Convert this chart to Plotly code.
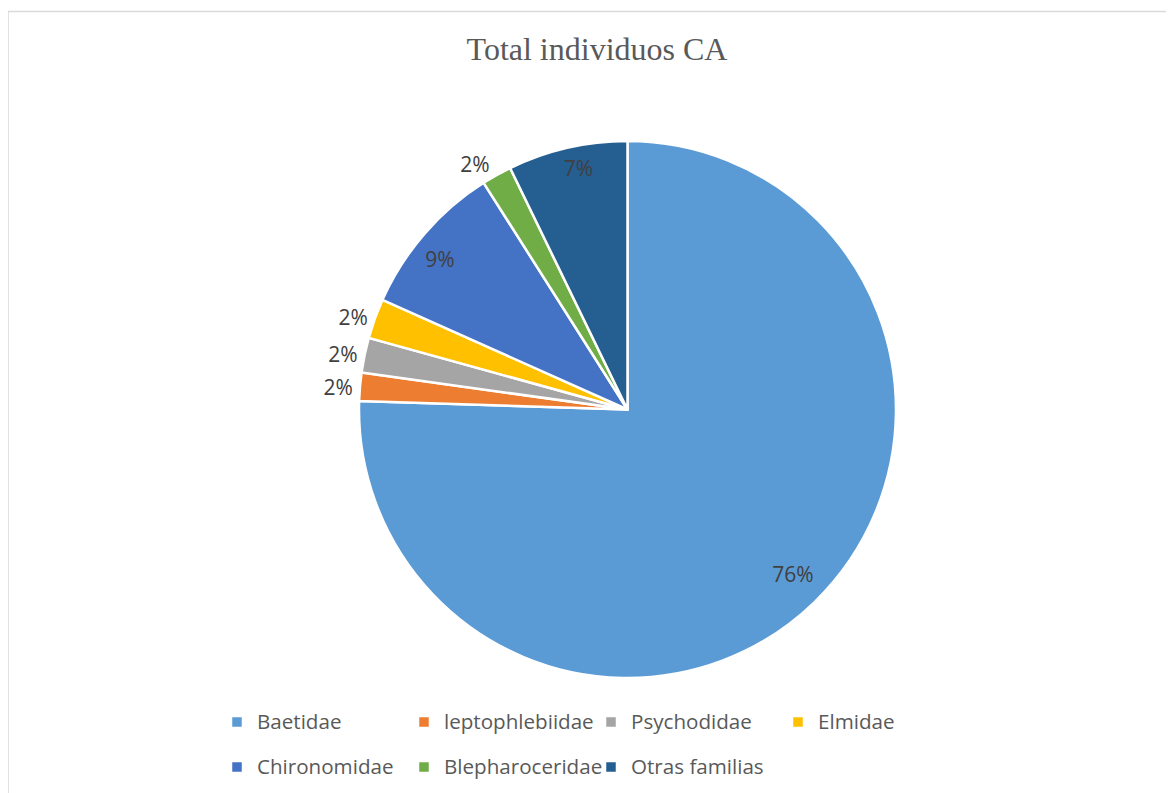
import plotly.graph_objects as go

categories = ["Baetidae", "leptophlebiidae", "Psychodidae", "Elmidae",
              "Chironomidae", "Blepharoceridae", "Otras familias"]
values = [75.5, 1.7, 2.1, 2.4, 9.3, 1.8, 7.2]
colors = ["#5B9BD5", "#ED7D31", "#A5A5A5", "#FFC000", "#4472C4", "#70AD47", "#255E91"]
text_positions = ["inside", "outside", "outside", "outside", "inside", "outside", "inside"]
title_text = "Total individuos CA"

W, H = 1174, 793
OFF = 8  # page body margin
ML, MR, MT, MB = 187, 187, 0, 0
PW, PH = W - ML - MR, H - MT - MB


def px_x(p):  # screen pixel -> paper x
    return (p - OFF - ML) / PW


def px_y(p):  # screen pixel -> paper y
    return 1 - (p - OFF - MT) / PH


# label placement padding (invisible glyphs) to push inside labels toward the rim, as in the original
INV = "<span style='color:rgba(0,0,0,0)'>{}</span>"
PCT = "%{percent:.0%}"
templates = [
    "<br>".join([INV.format("0")] * 5) + "<br>" + INV.format("0" * 12) + PCT,
    PCT, PCT, PCT,
    PCT + INV.format("0" * 5) + "<br>" + INV.format("0"),
    PCT,
    PCT + "<br>" + INV.format("0") + "<br>" + INV.format("0"),
]

legend_labels = [f"<span style='font-size:20.6px;baseline-shift:6px'>{c}</span>" for c in categories]

fig = go.Figure(go.Pie(
    labels=legend_labels,
    values=values,
    sort=False,
    direction="clockwise",
    rotation=0,
    marker=dict(colors=colors, line=dict(color="white", width=2.5)),
    texttemplate=templates,
    textposition=text_positions,
    insidetextorientation="horizontal",
    textfont=dict(family="Open Sans", size=21, color="#404040"),
    domain=dict(x=[px_x(359), px_x(896)], y=[px_y(678), px_y(141)]),
    hoverinfo="label+percent",
))

fig.update_layout(
    width=W, height=H,
    margin=dict(l=ML, r=MR, t=MT, b=MB),
    paper_bgcolor="white",
    plot_bgcolor="white",
    title=dict(text=title_text, x=(597 - OFF) / W, xref="container", xanchor="center",
               y=1 - (49 - OFF) / H, yref="container", yanchor="middle",
               font=dict(family="Liberation Serif, Times New Roman, serif", size=32, color="#595959")),
    showlegend=True,
    legend=dict(orientation="h", x=px_x(217), xanchor="left", y=px_y(694.5), yanchor="top",
                entrywidth=142, entrywidthmode="pixels", traceorder="normal",
                font=dict(family="Open Sans", size=32.3, color="#595959"),
                bgcolor="rgba(0,0,0,0)"),
    shapes=[dict(type="rect", xref="paper", yref="paper",
                 x0=px_x(8), x1=px_x(1190), y0=px_y(810), y1=px_y(11.5),
                 line=dict(color="#d9d9d9", width=1.5), layer="below")],
)

fig.write_html("out.html")
